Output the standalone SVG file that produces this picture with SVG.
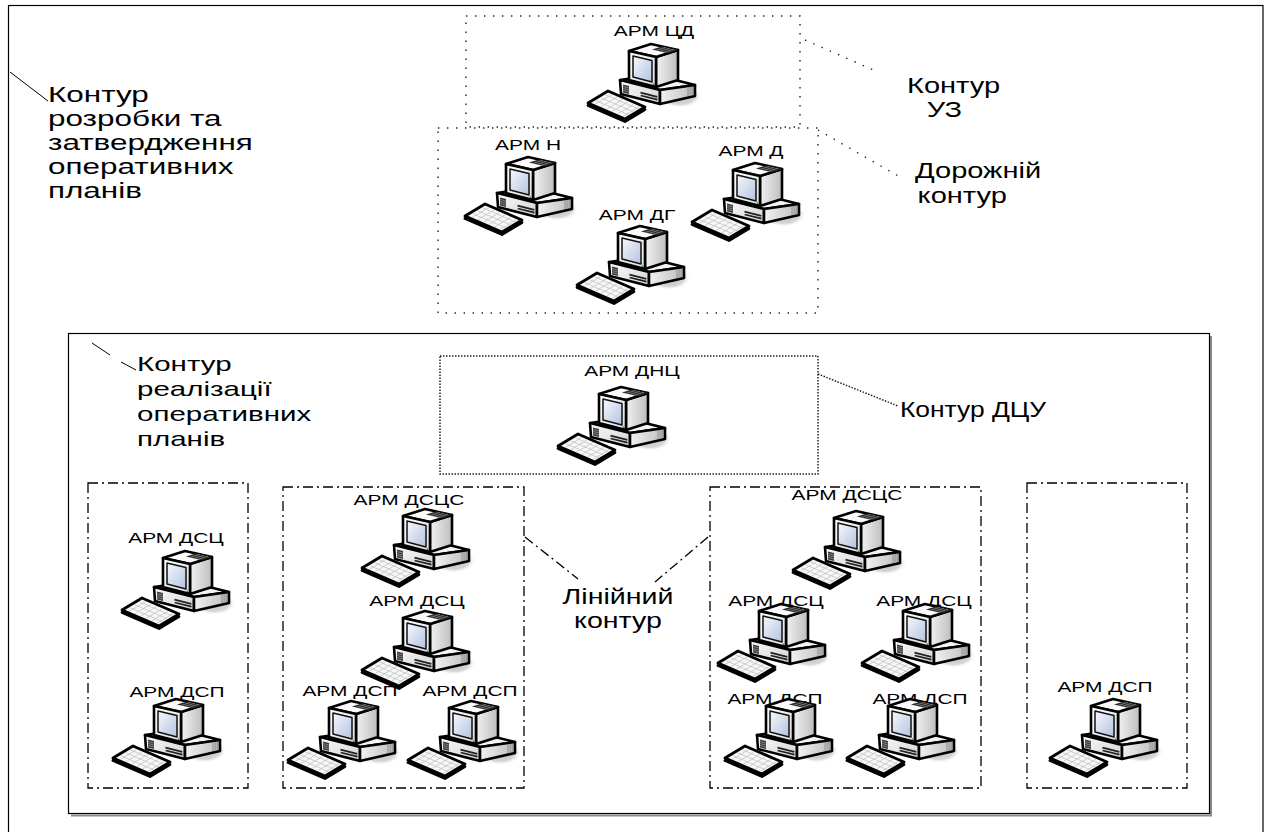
<svg xmlns="http://www.w3.org/2000/svg" width="1268" height="832" viewBox="0 0 1268 832">
  <style>
    .t { font-family: "Liberation Sans", Arial, sans-serif; fill: #000; }
    .arm { font-size: 15.5px; text-anchor: middle; }
    .big { font-size: 22px; }
    .mid { font-size: 20.5px; }
    .frame { fill: none; stroke: #000; stroke-width: 1.2; }
    .sparse { fill: none; stroke: #222; stroke-width: 1.4; stroke-dasharray: 1.4 7.6; }
    .dense { fill: none; stroke: #222; stroke-width: 1.5; stroke-dasharray: 1.5 1.5; }
    .dashdot { fill: none; stroke: #000; stroke-width: 1.3; stroke-dasharray: 10 4 2 4; }
    .lead { fill: none; stroke: #000; stroke-width: 1; }
    .edge { stroke: #000; stroke-width: 2.6; stroke-linejoin: round; }
  </style>
  <defs>
    <linearGradient id="screenFill" x1="0" y1="0" x2="1" y2="1">
      <stop offset="0" stop-color="#f6f8fd"/>
      <stop offset="1" stop-color="#b4c3e0"/>
    </linearGradient>
    <linearGradient id="bezelFill" x1="0" y1="0" x2="1" y2="1">
      <stop offset="0" stop-color="#ffffff"/>
      <stop offset="1" stop-color="#dedede"/>
    </linearGradient>
    <linearGradient id="sideFill" x1="0" y1="0" x2="1" y2="0">
      <stop offset="0" stop-color="#f2f2f2"/>
      <stop offset="1" stop-color="#bdbdbd"/>
    </linearGradient>
    <linearGradient id="frontFill" x1="0" y1="0" x2="1" y2="1">
      <stop offset="0" stop-color="#fcfcfc"/>
      <stop offset="1" stop-color="#d2d2d2"/>
    </linearGradient>
    <radialGradient id="shadowFill" cx="0.45" cy="0.5" r="0.5">
      <stop offset="0" stop-color="#bdbdbd"/>
      <stop offset="0.7" stop-color="#d6d6d6"/>
      <stop offset="1" stop-color="#ffffff" stop-opacity="0"/>
    </radialGradient>

    <!-- workstation: monitor on desktop case with keyboard -->
    <g id="pc">
      <ellipse cx="94" cy="53" rx="22" ry="12" fill="url(#shadowFill)"/>
      <!-- case -->
      <path class="edge" d="M32,37 L72,47 L107,42 L67,32 Z" fill="#f4f4f4"/>
      <path class="edge" d="M32,37 L72,47 L72,61 L33,51 Z" fill="url(#frontFill)"/>
      <path class="edge" d="M72,47 L107,42 L107,53 L72,61 Z" fill="url(#sideFill)"/>
      <path d="M35,41.5 L41,43 L41,51 L35,49.5 Z" fill="#3a3a3a"/>
      <path d="M35,43.5 L41,45 M35,45.5 L41,47 M35,47.5 L41,49" stroke="#aaa" stroke-width="0.6"/>
      <path d="M52.5,49.7 L69.3,53.9 M52.7,52.5 L69.5,56.7" stroke="#222" stroke-width="1.8"/>
      <path d="M100,44.5 L100,53 M102.1,44.2 L102.1,52.6 M104.2,43.9 L104.2,52.2" stroke="#8a8a8a" stroke-width="0.9"/>
      <!-- monitor -->
      <path class="edge" d="M68,14 L90,7 L90,37 L68,44 Z" fill="url(#sideFill)"/>
      <path class="edge" d="M41,8 L68,14 L90,7 L63,1 Z" fill="#fafafa"/>
      <path d="M63.9,6.6 L80.1,10.2 L90,7 L73.8,3.4 Z" fill="#2b2b2b"/>
      <path d="M68,7.5 L77.9,4.3 M72,8.4 L81.9,5.2 M76,9.3 L86,6.1" stroke="#888" stroke-width="0.8"/>
      <path class="edge" d="M41,8 L68,14 L68,44 L41,37 Z" fill="url(#bezelFill)" stroke-width="2.8"/>
      <path d="M45,13 L64,17.5 L64,39 L45,34 Z" fill="url(#screenFill)" stroke="#111" stroke-width="1.5" stroke-linejoin="round"/>
      <circle cx="65.5" cy="41.2" r="0.9" fill="#2a2"/>
      <!-- keyboard -->
      <path d="M0,62.5 L20,50.5 L57,66.5 L37,78.5 Z" fill="#000" stroke="#000" stroke-width="2.8" stroke-linejoin="round"/>
      <path d="M0,60 L20,48 L57,64 L37,76 Z" fill="#f7f7f7" stroke="#000" stroke-width="2.8" stroke-linejoin="round"/>
      <path d="M7.8,57.6 L40.4,71.7 M12.6,54.7 L45.2,68.8 M17.4,51.8 L50,65.9 M7.6,61.2 L23.6,51.6 M13.1,63.6 L29.1,54 M18.7,66 L34.7,56.4 M24.2,68.4 L40.2,58.8 M29.8,70.8 L45.8,61.2 M35.3,73.2 L51.3,63.6" stroke="#bbb" stroke-width="0.7"/>
    </g>
  </defs>

  <rect width="1268" height="832" fill="#fff"/>

  <!-- outer frame: planning contour -->
  <rect class="frame" x="8.5" y="5.5" width="1254.5" height="840"/>
  <!-- inner frame: execution contour -->
  <path d="M1211,336 L1211,815.5 L71,815.5" fill="none" stroke="#8c8c8c" stroke-width="2"/>
  <rect class="frame" x="68.5" y="333.5" width="1141" height="480"/>

  <!-- contour outlines -->
  <g id="contours">
    <rect class="sparse" x="466" y="16" width="334" height="111"/>
    <rect class="sparse" x="438" y="128" width="380" height="185"/>
    <rect class="dense" x="440" y="356" width="378" height="118"/>
    <rect class="dashdot" x="88" y="483" width="160" height="305"/>
    <rect class="dashdot" x="283" y="487" width="241" height="301"/>
    <rect class="dashdot" x="710" y="487" width="271" height="301"/>
    <rect class="dashdot" x="1027" y="483" width="160" height="305"/>
  </g>

  <!-- leader lines -->
  <g id="connectors">
    <line class="lead" x1="10" y1="72" x2="48" y2="101"/>
    <line class="lead" x1="92" y1="343" x2="110" y2="355"/>
    <line class="lead" x1="121" y1="362" x2="136" y2="370"/>
    <line class="sparse" x1="805" y1="40" x2="878" y2="72"/>
    <line class="sparse" x1="818" y1="130" x2="900" y2="177"/>
    <line class="dense" x1="818" y1="374" x2="898" y2="406"/>
    <line class="dashdot" x1="525" y1="537" x2="578" y2="579"/>
    <line class="dashdot" x1="708" y1="537" x2="655" y2="582"/>
  </g>

  <!-- contour captions -->
  <g id="label-planning">
    <text class="t big" transform="translate(48,102) scale(1.43,1)"><tspan x="0" y="0">Контур</tspan><tspan x="0" y="24">розробки та</tspan><tspan x="0" y="48">затвердження</tspan><tspan x="0" y="72">оперативних</tspan><tspan x="0" y="96">планів</tspan></text>
  </g>
  <g id="label-execution">
    <text class="t mid" transform="translate(137,371) scale(1.44,1)"><tspan x="0" y="0">Контур</tspan><tspan x="0" y="25">реалізації</tspan><tspan x="0" y="50">оперативних</tspan><tspan x="0" y="75">планів</tspan></text>
  </g>
  <g id="label-uz">
    <text class="t big" transform="translate(907,93) scale(1.32,1)"><tspan x="0" y="0">Контур</tspan><tspan x="15" y="24">УЗ</tspan></text>
  </g>
  <g id="label-road">
    <text class="t big" transform="translate(915,178) scale(1.32,1)"><tspan x="0" y="0">Дорожній</tspan><tspan x="2" y="25">контур</tspan></text>
  </g>
  <g id="label-dcu">
    <text class="t big" transform="translate(900,417) scale(1.2,1)">Контур ДЦУ</text>
  </g>
  <g id="label-linear">
    <text class="t big" text-anchor="middle" transform="translate(618,604) scale(1.3,1)"><tspan x="0" y="0">Лінійний</tspan><tspan x="0" y="24">контур</tspan></text>
  </g>

  <!-- workstations -->
  <g id="arm-cd"><text class="t arm" transform="translate(654,36) scale(1.35,1)">АРМ ЦД</text><use href="#pc" x="588" y="43"/></g>
  <g id="arm-n"><text class="t arm" transform="translate(528,150) scale(1.35,1)">АРМ Н</text><use href="#pc" x="465" y="156"/></g>
  <g id="arm-d"><text class="t arm" transform="translate(751,156) scale(1.35,1)">АРМ Д</text><use href="#pc" x="692" y="162"/></g>
  <g id="arm-dg"><text class="t arm" transform="translate(637,220) scale(1.35,1)">АРМ ДГ</text><use href="#pc" x="577" y="225"/></g>
  <g id="arm-dnc"><text class="t arm" transform="translate(632,376) scale(1.35,1)">АРМ ДНЦ</text><use href="#pc" x="558" y="386"/></g>

  <g id="arm-dsc-1"><text class="t arm" transform="translate(176,543) scale(1.35,1)">АРМ ДСЦ</text><use href="#pc" x="122" y="550"/></g>
  <g id="arm-dsp-1"><text class="t arm" transform="translate(177,697) scale(1.35,1)">АРМ ДСП</text><use href="#pc" x="113" y="698"/></g>

  <g id="arm-dscs-2"><text class="t arm" transform="translate(409,505) scale(1.35,1)">АРМ ДСЦС</text><use href="#pc" x="362" y="508"/></g>
  <g id="arm-dsc-2"><text class="t arm" transform="translate(417,606) scale(1.35,1)">АРМ ДСЦ</text><use href="#pc" x="362" y="610"/></g>
  <g id="arm-dsp-2a"><text class="t arm" transform="translate(350,696) scale(1.35,1)">АРМ ДСП</text><use href="#pc" x="288" y="700"/></g>
  <g id="arm-dsp-2b"><text class="t arm" transform="translate(470,696) scale(1.35,1)">АРМ ДСП</text><use href="#pc" x="408" y="700"/></g>

  <g id="arm-dscs-3"><text class="t arm" transform="translate(847,500) scale(1.35,1)">АРМ ДСЦС</text><use href="#pc" x="793" y="510"/></g>
  <g id="arm-dsc-3a"><text class="t arm" transform="translate(776,606) scale(1.35,1)">АРМ ДСЦ</text><use href="#pc" x="718" y="603"/></g>
  <g id="arm-dsc-3b"><text class="t arm" transform="translate(924,606) scale(1.35,1)">АРМ ДСЦ</text><use href="#pc" x="862" y="603"/></g>
  <g id="arm-dsp-3a"><text class="t arm" transform="translate(775,704) scale(1.35,1)">АРМ ДСП</text><use href="#pc" x="725" y="698"/></g>
  <g id="arm-dsp-3b"><text class="t arm" transform="translate(920,704) scale(1.35,1)">АРМ ДСП</text><use href="#pc" x="847" y="698"/></g>

  <g id="arm-dsp-4"><text class="t arm" transform="translate(1105,692) scale(1.35,1)">АРМ ДСП</text><use href="#pc" x="1050" y="698"/></g>
</svg>
